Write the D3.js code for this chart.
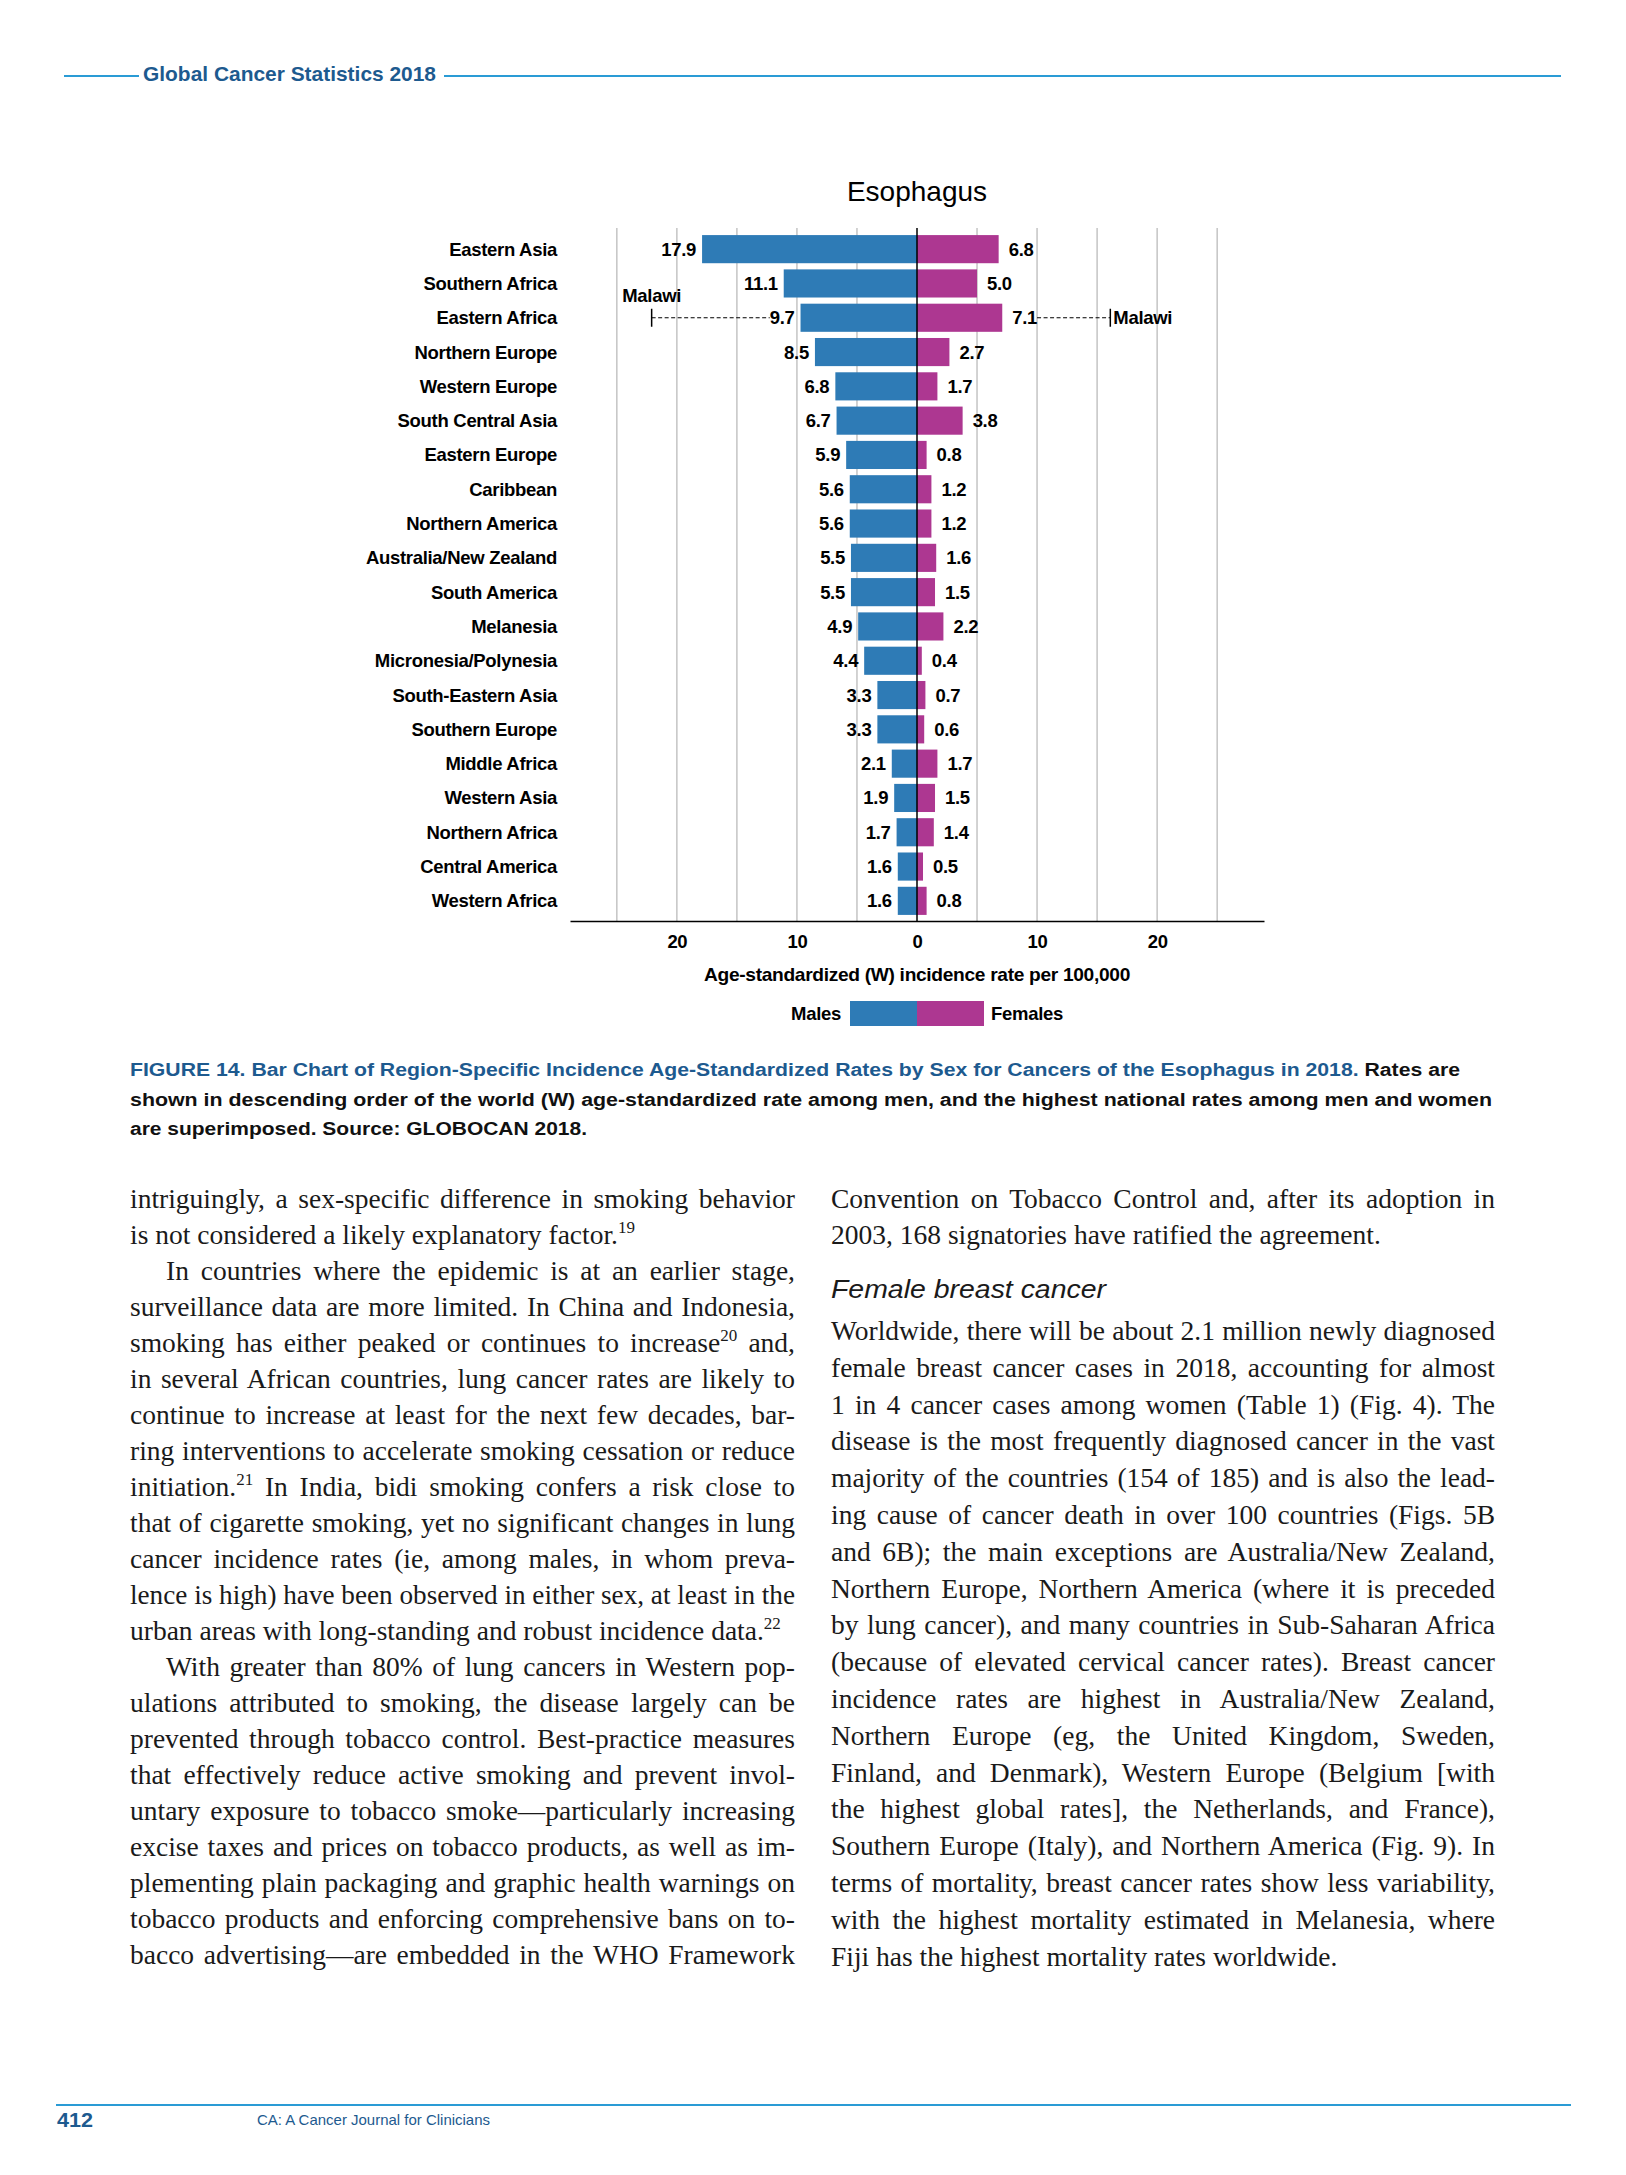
<html>
<head>
<meta charset="utf-8">
<script src="https://d3js.org/d3.v7.min.js"></script>
<style>
  body { margin: 0; background: #fff; }
  svg text { font-family: "Liberation Sans", Arial, sans-serif; }
  .serif { font-family: "Liberation Serif", "Times New Roman", serif; }
</style>
</head>
<body>
<script>
// ---- chart data ----
var regions = ["Eastern Asia", "Southern Africa", "Eastern Africa", "Northern Europe", "Western Europe",
  "South Central Asia", "Eastern Europe", "Caribbean", "Northern America", "Australia/New Zealand",
  "South America", "Melanesia", "Micronesia/Polynesia", "South-Eastern Asia", "Southern Europe",
  "Middle Africa", "Western Asia", "Northern Africa", "Central America", "Western Africa"];
var males   = [17.9, 11.1, 9.7, 8.5, 6.8, 6.7, 5.9, 5.6, 5.6, 5.5, 5.5, 4.9, 4.4, 3.3, 3.3, 2.1, 1.9, 1.7, 1.6, 1.6];
var females = [6.8, 5.0, 7.1, 2.7, 1.7, 3.8, 0.8, 1.2, 1.2, 1.6, 1.5, 2.2, 0.4, 0.7, 0.6, 1.7, 1.5, 1.4, 0.5, 0.8];
var topCountry = ["Malawi", "Malawi"];     // males, females
var topValue   = [22.1, 16.1];
var topRegion  = "Eastern Africa";
var tickLabels = [-20, -10, 0, 10, 20];
var gridValues = [-25, -20, -15, -10, -5, 5, 10, 15, 20, 25];

// ---- page text ----
var captionLines = [
  ["FIGURE 14. Bar Chart of Region-Specific Incidence Age-Standardized Rates by Sex for Cancers of the Esophagus in 2018.", " Rates are"],
  ["", "shown in descending order of the world (W) age-standardized rate among men, and the highest national rates among men and women"],
  ["", "are superimposed. Source: GLOBOCAN 2018."]
];
var leftParas = [
  { indent: false, lines: ["intriguingly, a sex-specific difference in smoking behavior",
    "is not considered a likely explanatory factor.^19"] },
  { indent: true, lines: ["In countries where the epidemic is at an earlier stage,",
    "surveillance data are more limited. In China and Indonesia,",
    "smoking has either peaked or continues to increase^20 and,",
    "in several African countries, lung cancer rates are likely to",
    "continue to increase at least for the next few decades, bar-",
    "ring interventions to accelerate smoking cessation or reduce",
    "initiation.^21 In India, bidi smoking confers a risk close to",
    "that of cigarette smoking, yet no significant changes in lung",
    "cancer incidence rates (ie, among males, in whom preva-",
    "lence is high) have been observed in either sex, at least in the",
    "urban areas with long-standing and robust incidence data.^22"] },
  { indent: true, cont: true, lines: ["With greater than 80% of lung cancers in Western pop-",
    "ulations attributed to smoking, the disease largely can be",
    "prevented through tobacco control. Best-practice measures",
    "that effectively reduce active smoking and prevent invol-",
    "untary exposure to tobacco smoke\u2014particularly increasing",
    "excise taxes and prices on tobacco products, as well as im-",
    "plementing plain packaging and graphic health warnings on",
    "tobacco products and enforcing comprehensive bans on to-",
    "bacco advertising\u2014are embedded in the WHO Framework"] }
];
var rightTop = ["Convention on Tobacco Control and, after its adoption in",
  "2003, 168 signatories have ratified the agreement."];
var rightHeading = "Female breast cancer";
var rightLines = ["Worldwide, there will be about 2.1 million newly diagnosed",
  "female breast cancer cases in 2018, accounting for almost",
  "1 in 4 cancer cases among women (Table 1) (Fig. 4). The",
  "disease is the most frequently diagnosed cancer in the vast",
  "majority of the countries (154 of 185) and is also the lead-",
  "ing cause of cancer death in over 100 countries (Figs. 5B",
  "and 6B); the main exceptions are Australia/New Zealand,",
  "Northern Europe, Northern America (where it is preceded",
  "by lung cancer), and many countries in Sub-Saharan Africa",
  "(because of elevated cervical cancer rates). Breast cancer",
  "incidence rates are highest in Australia/New Zealand,",
  "Northern Europe (eg, the United Kingdom, Sweden,",
  "Finland, and Denmark), Western Europe (Belgium [with",
  "the highest global rates], the Netherlands, and France),",
  "Southern Europe (Italy), and Northern America (Fig. 9). In",
  "terms of mortality, breast cancer rates show less variability,",
  "with the highest mortality estimated in Melanesia, where",
  "Fiji has the highest mortality rates worldwide."];

var blue = "#2e7bb6", pink = "#ad3791", navy = "#1d5a8f", rule = "#2a9bd5";

var svg = d3.select("body").append("svg")
    .attr("width", 1626)
    .attr("height", 2175);

// ---- page header / footer ----
svg.append("line").attr("x1", 64).attr("x2", 139).attr("y1", 76).attr("y2", 76)
    .style("stroke", rule).style("stroke-width", 2);
svg.append("line").attr("x1", 444).attr("x2", 1561).attr("y1", 76).attr("y2", 76)
    .style("stroke", rule).style("stroke-width", 2);
svg.append("text").attr("x", 143).attr("y", 81)
    .attr("textLength", 293).attr("lengthAdjust", "spacingAndGlyphs")
    .style("font-size", "21px").style("font-weight", "bold").style("fill", navy)
    .text("Global Cancer Statistics 2018");

svg.append("line").attr("x1", 56).attr("x2", 1571).attr("y1", 2105).attr("y2", 2105)
    .style("stroke", rule).style("stroke-width", 2);
svg.append("text").attr("x", 57).attr("y", 2127)
    .attr("textLength", 36).attr("lengthAdjust", "spacingAndGlyphs")
    .style("font-size", "20px").style("font-weight", "bold").style("fill", navy)
    .text("412");
svg.append("text").attr("x", 257).attr("y", 2125)
    .attr("textLength", 233).attr("lengthAdjust", "spacingAndGlyphs")
    .style("font-size", "15px").style("fill", navy)
    .text("CA: A Cancer Journal for Clinicians");

// ---- chart ----
var x = d3.scaleLinear().domain([-28.9, 28.9]).range([570, 1264]);
var y = d3.scaleBand().domain(regions).range([232, 918]).paddingInner(0.18).paddingOuter(0.09);
var plotTop = 228, plotBottom = 921;

var chart = svg.append("g").attr("class", "chart");

chart.append("text")
    .attr("x", x(0)).attr("y", 201)
    .style("text-anchor", "middle").style("font-size", "28px")
    .text("Esophagus");

chart.selectAll("line.grid").data(gridValues).enter().append("line")
    .attr("class", "grid")
    .attr("x1", function(d) { return x(d); }).attr("x2", function(d) { return x(d); })
    .attr("y1", plotTop).attr("y2", plotBottom)
    .style("stroke", "#c4c4c4").style("stroke-width", 1.5);

var rows = regions.map(function(r, i) { return { name: r, m: males[i], f: females[i] }; });

chart.selectAll("rect.male").data(rows).enter().append("rect")
    .attr("class", "male")
    .attr("x", function(d) { return x(-d.m); })
    .attr("y", function(d) { return y(d.name); })
    .attr("width", function(d) { return x(0) - x(-d.m); })
    .attr("height", y.bandwidth())
    .style("fill", blue);

chart.selectAll("rect.female").data(rows).enter().append("rect")
    .attr("class", "female")
    .attr("x", x(0))
    .attr("y", function(d) { return y(d.name); })
    .attr("width", function(d) { return x(d.f) - x(0); })
    .attr("height", y.bandwidth())
    .style("fill", pink);

var lblStyle = function(s) {
  s.style("font-size", "18.5px").style("font-weight", "bold").style("letter-spacing", "-0.3px").style("fill", "#000");
};

chart.selectAll("text.region").data(rows).enter().append("text")
    .attr("class", "region")
    .attr("x", 557)
    .attr("y", function(d) { return y(d.name) + y.bandwidth() / 2; })
    .attr("dy", "0.35em")
    .style("text-anchor", "end")
    .call(lblStyle)
    .text(function(d) { return d.name; });

var mLabels = chart.selectAll("text.mval").data(rows).enter().append("text")
    .attr("class", "mval")
    .attr("x", function(d) { return x(-d.m) - 6; })
    .attr("y", function(d) { return y(d.name) + y.bandwidth() / 2; })
    .attr("dy", "0.35em")
    .style("text-anchor", "end")
    .call(lblStyle)
    .text(function(d) { return d.m.toFixed(1); });

var fLabels = chart.selectAll("text.fval").data(rows).enter().append("text")
    .attr("class", "fval")
    .attr("x", function(d) { return x(d.f) + 10; })
    .attr("y", function(d) { return y(d.name) + y.bandwidth() / 2; })
    .attr("dy", "0.35em")
    .style("text-anchor", "start")
    .call(lblStyle)
    .text(function(d) { return d.f.toFixed(1); });

chart.append("line")
    .attr("x1", x(0)).attr("x2", x(0)).attr("y1", plotTop).attr("y2", plotBottom)
    .style("stroke", "#000").style("stroke-width", 1.5);

// highest national rates (Malawi)
var cy = y(topRegion) + y.bandwidth() / 2;
var mBox = mLabels.filter(function(d) { return d.name === topRegion; }).node().getBBox();
var fBox = fLabels.filter(function(d) { return d.name === topRegion; }).node().getBBox();

chart.append("line")
    .attr("x1", x(-topValue[0])).attr("x2", mBox.x).attr("y1", cy).attr("y2", cy)
    .style("stroke", "#000").style("stroke-width", 1.2).style("stroke-dasharray", "4,2.5");
chart.append("line")
    .attr("x1", x(-topValue[0])).attr("x2", x(-topValue[0])).attr("y1", cy - 9).attr("y2", cy + 9)
    .style("stroke", "#000").style("stroke-width", 1.5);
chart.append("text")
    .attr("x", x(-topValue[0])).attr("y", cy - 16)
    .style("text-anchor", "middle")
    .call(lblStyle)
    .text(topCountry[0]);

chart.append("line")
    .attr("x1", fBox.x + fBox.width).attr("x2", x(topValue[1])).attr("y1", cy).attr("y2", cy)
    .style("stroke", "#000").style("stroke-width", 1.2).style("stroke-dasharray", "4,2.5");
chart.append("line")
    .attr("x1", x(topValue[1])).attr("x2", x(topValue[1])).attr("y1", cy - 9).attr("y2", cy + 9)
    .style("stroke", "#000").style("stroke-width", 1.5);
chart.append("text")
    .attr("x", x(topValue[1]) + 3).attr("y", cy).attr("dy", "0.35em")
    .call(lblStyle)
    .text(topCountry[1]);

// x axis
var axis = chart.append("g")
    .attr("transform", "translate(0," + plotBottom + ")")
    .call(d3.axisBottom(x).tickValues(tickLabels).tickSize(0).tickPadding(14)
      .tickFormat(function(d) { return Math.abs(d); }));
axis.select(".domain").style("stroke", "#000").style("stroke-width", 1.5);
axis.selectAll("text").style("font-family", "Liberation Sans, Arial, sans-serif")
    .call(lblStyle);

chart.append("text")
    .attr("x", x(0)).attr("y", 981)
    .attr("textLength", 426).attr("lengthAdjust", "spacingAndGlyphs")
    .style("text-anchor", "middle")
    .call(lblStyle)
    .text("Age-standardized (W) incidence rate per 100,000");

// legend
chart.append("rect").attr("x", x(0) - 67).attr("y", 1001).attr("width", 67).attr("height", 25).style("fill", blue);
chart.append("rect").attr("x", x(0)).attr("y", 1001).attr("width", 67).attr("height", 25).style("fill", pink);
chart.append("text").attr("x", x(0) - 76).attr("y", 1020).style("text-anchor", "end")
    .call(lblStyle).text("Males");
chart.append("text").attr("x", x(0) + 74).attr("y", 1020)
    .call(lblStyle).text("Females");

// ---- caption ----
var capLen = [1330, 1362, 457];
captionLines.forEach(function(parts, i) {
  var t = svg.append("text").attr("x", 130).attr("y", 1076 + i * 29.5)
      .attr("textLength", capLen[i]).attr("lengthAdjust", "spacingAndGlyphs")
      .style("font-size", "18px").style("font-weight", "bold");
  if (parts[0]) t.append("tspan").style("fill", navy).text(parts[0]);
  t.append("tspan").style("fill", "#111").text(parts[1]);
});

// ---- body text ----
function bodyLine(str, x0, y0, width, justify) {
  var t = svg.append("text").attr("class", "serif").attr("x", x0).attr("y", y0)
      .style("font-size", "27.5px").style("fill", "#1a1a1a");
  var parts = str.split(/\^(\d+)/);
  parts.forEach(function(p, k) {
    if (k % 2 === 0) {
      if (p) t.append("tspan").attr("dy", k > 0 ? 11 : 0).text(p);
      else if (k > 0) t.append("tspan").attr("dy", 11).text("");
    } else {
      t.append("tspan").attr("dy", -11).style("font-size", "17px").text(p);
    }
  });
  var natural = t.node().getComputedTextLength();
  if (natural > width) {
    t.attr("textLength", width).attr("lengthAdjust", "spacingAndGlyphs");
  } else if (justify) {
    var n = (str.match(/ /g) || []).length;
    if (n > 0) t.style("word-spacing", ((width - natural) / n) + "px");
  }
}

var li = 0;
leftParas.forEach(function(p) {
  p.lines.forEach(function(l, k) {
    var last = k === p.lines.length - 1 && !p.cont;
    var ind = (p.indent && k === 0) ? 36 : 0;
    bodyLine(l, 130 + ind, 1208 + li * 36, 665 - ind, !last);
    li++;
  });
});
rightTop.forEach(function(l, k) {
  bodyLine(l, 831, 1208 + k * 36, 664, k === 0);
});
svg.append("text").attr("x", 831).attr("y", 1298)
    .attr("textLength", 275).attr("lengthAdjust", "spacingAndGlyphs")
    .style("font-size", "25px").style("font-style", "italic").style("fill", "#1a1a1a")
    .text(rightHeading);
rightLines.forEach(function(l, k) {
  bodyLine(l, 831, 1340 + k * 36.8, 664, k < rightLines.length - 1);
});
</script>
</body>
</html>
